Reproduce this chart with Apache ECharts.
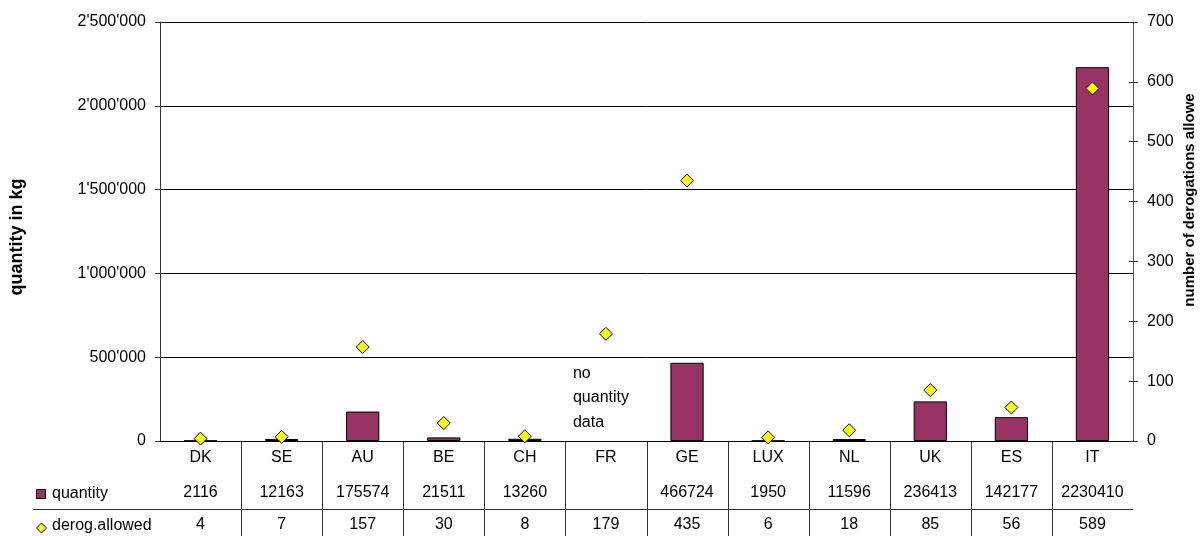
<!DOCTYPE html>
<html>
<head>
<meta charset="utf-8">
<script src="https://cdn.jsdelivr.net/npm/echarts/dist/echarts.min.js"></script>
<style>
  html, body { margin: 0; padding: 0; background: #ffffff; }
  #chart { width: 1201px; height: 536px; }
</style>
</head>
<body>
<div id="chart"></div>
<script>
// Derogations per country: quantity (kg) and number of derogations allowed
const countries = ['DK', 'SE', 'AU', 'BE', 'CH', 'FR', 'GE', 'LUX', 'NL', 'UK', 'ES', 'IT'];
const quantity = [2116, 12163, 175574, 21511, 13260, null, 466724, 1950, 11596, 236413, 142177, 2230410];
const derogAllowed = [4, 7, 157, 30, 8, 179, 435, 6, 18, 85, 56, 589];
const rowNames = ['quantity', 'derog.allowed'];
const noDataNote = 'no\nquantity\ndata';

const FONT = "'Liberation Sans', Arial, sans-serif";
const chart = echarts.init(document.getElementById('chart'), null, { renderer: 'canvas' });

function withApostrophes(v) {
  return String(v).replace(/\B(?=(\d{3})+(?!\d))/g, "'");
}

const labelStyle = { color: '#000', fontSize: 16, fontFamily: FONT };

chart.setOption({
  animation: false,
  backgroundColor: '#ffffff',
  grid: { left: 160, right: 68, top: 22, bottom: 95 },
  xAxis: [
    {
      type: 'category', data: countries, position: 'bottom',
      axisLine: { lineStyle: { color: '#000', width: 1 } },
      axisTick: { show: false },
      axisLabel: Object.assign({ margin: 9, interval: 0 }, labelStyle)
    },
    {
      type: 'category', data: quantity.map(v => v == null ? '' : String(v)), position: 'bottom',
      axisLine: { show: false }, axisTick: { show: false },
      axisLabel: Object.assign({ margin: 44, interval: 0 }, labelStyle)
    },
    {
      type: 'category', data: derogAllowed.map(String), position: 'bottom',
      axisLine: { show: false }, axisTick: { show: false },
      axisLabel: Object.assign({ margin: 76, interval: 0 }, labelStyle)
    }
  ],
  yAxis: [
    {
      type: 'value', position: 'left', min: 0, max: 2500000, interval: 500000,
      axisLine: { show: true, lineStyle: { color: '#333', width: 1 } },
      axisTick: { show: true, length: 5, lineStyle: { color: '#333' } },
      axisLabel: Object.assign({ margin: 14, formatter: withApostrophes }, labelStyle),
      splitLine: { show: true, lineStyle: { color: '#000', width: 1 } }
    },
    {
      type: 'value', position: 'right', min: 0, max: 700, interval: 100,
      axisLine: { show: true, lineStyle: { color: '#555', width: 1 } },
      axisTick: { show: true, length: 5, lineStyle: { color: '#333' } },
      axisLabel: Object.assign({ margin: 14 }, labelStyle),
      splitLine: { show: false }
    },
    {
      // inner half of the crossing ticks on the right axis
      type: 'value', position: 'right', min: 0, max: 700, interval: 100,
      axisLine: { show: false },
      axisTick: { show: true, inside: true, length: 4, lineStyle: { color: '#333' } },
      axisLabel: { show: false },
      splitLine: { show: false }
    }
  ],
  series: [
    {
      name: 'quantity', type: 'bar', xAxisIndex: 0, yAxisIndex: 0,
      data: quantity, barWidth: '41%',
      itemStyle: { color: '#993366', borderColor: '#000', borderWidth: 1 },
      z: 2
    },
    {
      name: 'derog.allowed', type: 'scatter', xAxisIndex: 0, yAxisIndex: 1,
      data: derogAllowed, symbol: 'diamond', symbolSize: 13,
      itemStyle: { color: '#ffff00', borderColor: '#000080', borderWidth: 1, opacity: 1 },
      z: 5
    }
  ]
});

// Data table rules, legend keys and titles placed from the axes' own pixel scale
const cx = i => chart.convertToPixel({ xAxisIndex: 0 }, i);
const band = cx(1) - cx(0);
const yZero = chart.convertToPixel({ yAxisIndex: 0 }, 0);
const xRight = cx(countries.length - 1) + band / 2;
const lineStyle = { stroke: '#333', lineWidth: 1 };
const graphics = [];

for (let i = 0; i < countries.length - 1; i++) {
  const x = Math.round(cx(i) + band / 2) + 0.5;
  graphics.push({ type: 'line', silent: true, shape: { x1: x, y1: yZero, x2: x, y2: 536 }, style: lineStyle });
}
const yRule = Math.round(yZero + 68) + 0.5;
graphics.push({ type: 'line', silent: true, shape: { x1: 33, y1: yRule, x2: xRight, y2: yRule }, style: lineStyle });

// row legend keys
graphics.push({ type: 'rect', silent: true, shape: { x: 36.5, y: 489.5, width: 9, height: 9 },
  style: { fill: '#993366', stroke: '#000', lineWidth: 1 } });
graphics.push({ type: 'text', silent: true, x: 52, y: yZero + 53,
  style: { text: rowNames[0], fill: '#000', font: '16px ' + FONT, textVerticalAlign: 'middle' } });
graphics.push({ type: 'polygon', silent: true,
  shape: { points: [[41.5, 523], [46.5, 528], [41.5, 533], [36.5, 528]] },
  style: { fill: '#ffff00', stroke: '#000080', lineWidth: 1 } });
graphics.push({ type: 'text', silent: true, x: 52, y: yZero + 85,
  style: { text: rowNames[1], fill: '#000', font: '16px ' + FONT, textVerticalAlign: 'middle' } });

// note in the FR column, which has no quantity bar
const frIdx = countries.indexOf('FR');
graphics.push({ type: 'text', silent: true, x: cx(frIdx) - 33, y: 361,
  style: { text: noDataNote, fill: '#000', font: '16px ' + FONT, lineHeight: 24.5 } });

// axis titles
graphics.push({ type: 'text', silent: true, x: 17, y: 237, rotation: Math.PI / 2,
  style: { text: 'quantity in kg', fill: '#000', font: 'bold 18px ' + FONT,
    textAlign: 'center', textVerticalAlign: 'middle' } });
graphics.push({ type: 'text', silent: true, x: 1190, y: 200, rotation: Math.PI / 2,
  style: { text: 'number of derogations allowe', fill: '#000', font: 'bold 15px ' + FONT,
    textAlign: 'center', textVerticalAlign: 'middle' } });

chart.setOption({ graphic: graphics });
</script>
</body>
</html>
